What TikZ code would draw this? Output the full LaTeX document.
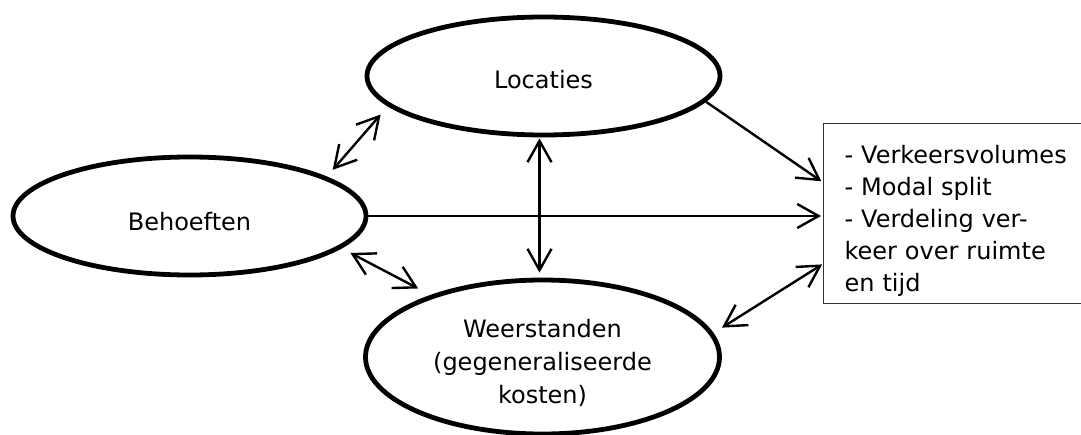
\documentclass[tikz,border=0pt]{standalone}
\usepackage{fontspec}
\setmainfont{DejaVu Sans}
\usetikzlibrary{shapes.geometric,arrows.meta,calc}
\def\pxu{0.75pt}
\begin{document}
\begin{tikzpicture}[x=0.75pt,y=-0.75pt,
  ell/.style={ellipse,draw,line width=3.6pt,inner sep=0pt,align=center,font=\fontsize{18}{24.75}\selectfont},
  tip/.tip={Straight Barb[length=16pt,width=18pt]},
  dbl/.style={line width=1.8pt,tip-tip},
  sgl/.style={line width=1.8pt,-tip},
  outbox/.style={draw=black!80,line width=0.8pt,rectangle,anchor=north west,inner xsep=21*\pxu,inner ysep=0pt,align=left,font=\fontsize{18}{24}\selectfont}
]
\useasboundingbox (0,0) rectangle (1081,435);
\node[ell,minimum width=353*\pxu,minimum height=118*\pxu] (loc) at (543.5,76) {\rule{0pt}{19.5pt}Locaties};
\node[ell,minimum width=353*\pxu,minimum height=118*\pxu] (beh) at (189.5,216) {\rule{0pt}{21.5pt}Behoeften};
\node[ell,minimum width=354*\pxu,minimum height=154*\pxu] (wee) at (542.5,357) {\rule{0pt}{22.8pt}Weerstanden\\(gegeneraliseerde\\kosten)};
\node[outbox,minimum height=180*\pxu,text width=250*\pxu] (box) at (823,123) {\rule{0pt}{24.3pt}- Verkeersvolumes\\- Modal split\\- Verdeling ver-\\keer over ruimte\\en tijd};
\draw[dbl,shorten <=9*\pxu,shorten >=11*\pxu] (beh.16.8) -- (loc.191.8);
\draw[dbl,shorten <=10*\pxu,shorten >=14*\pxu] (beh.-12.6) -- (wee.151);
\draw[dbl,shorten <=1*\pxu,shorten >=5*\pxu] ($(loc.south)+(-4,0)$) -- ($(loc.south |- wee.north)+(-4,0)$);
\draw[sgl,shorten >=2*\pxu] (beh.east) -- (beh.east -| box.west);
\draw[sgl,shorten >=2*\pxu] (loc.-9.5) -- ($(box.north west)!0.328!(box.south west)$);
\draw[dbl,shorten <=1*\pxu,shorten >=10*\pxu] ($(box.north west)!0.778!(box.south west)$) -- (wee.8.5);
\end{tikzpicture}
\end{document}
